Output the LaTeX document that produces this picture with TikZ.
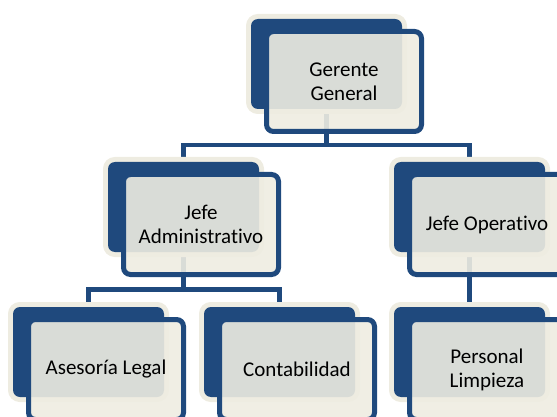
\documentclass[tikz,border=0pt]{standalone}
\usepackage{fontspec}
\setmainfont{Carlito}[Ligatures=NoCommon]
\usetikzlibrary{backgrounds}
\definecolor{navy}{HTML}{1F497D}
\definecolor{cream}{HTML}{EEECE1}
\begin{document}
\begin{tikzpicture}[x=1pt,y=-1pt,
  backbox/.style={rectangle, rounded corners=7pt, minimum width=151pt, minimum height=90pt,
    inner sep=0pt, outer sep=0pt, anchor=north west, fill=navy,
    preaction={draw=cream, line width=10pt}},
  frontbox/.style={rectangle, rounded corners=7pt, minimum width=155pt, minimum height=100pt,
    inner sep=0pt, outer sep=0pt, anchor=north west, draw=navy, line width=5pt,
    fill=cream, fill opacity=0.9, text opacity=1, text=black, align=center,
    font=\fontsize{21}{24}\selectfont},
  conn/.style={draw=navy, line width=4.5pt, line join=miter}]
\useasboundingbox (0,0) rectangle (557,417);
\clip (0,0) rectangle (557,417);

% Gerente General
\node[backbox] (gb) at (251,19) {};
\node[frontbox] (gf) at (266.5,31.5) {Gerente\\General};
% Jefe Administrativo
\node[backbox] (jab) at (108,162) {};
\node[frontbox] (jaf) at (123.5,174.5) {Jefe\\Administrativo};
% Jefe Operativo
\node[backbox] (job) at (394,162) {};
\node[frontbox] (jof) at (409.5,174.5) {Jefe Operativo};
% Asesoria Legal
\node[backbox] (alb) at (13,307) {};
\node[frontbox] (alf) at (28.5,319.5) {Asesoría Legal};
% Contabilidad
\node[backbox] (cob) at (204,307) {};
\node[frontbox] (cof) at (219.5,319.5) {Contabilidad};
% Personal Limpieza
\node[backbox] (plb) at (394,307) {};
\node[frontbox] (plf) at (409.5,319.5) {Personal\\Limpieza};

\begin{scope}[on background layer]
  \coordinate (t1) at (326.5,145);
  \coordinate (t2) at (183.5,289.5);
  \draw[conn] (gb.south) -- (t1);
  \draw[conn] (jab.north) |- (t1) -| (job.north);
  \draw[conn] (jab.south) -- (t2);
  \draw[conn] (alb.north) |- (t2) -| (cob.north);
  \draw[conn] (job.south) -- (plb.north);
\end{scope}
\end{tikzpicture}
\end{document}
